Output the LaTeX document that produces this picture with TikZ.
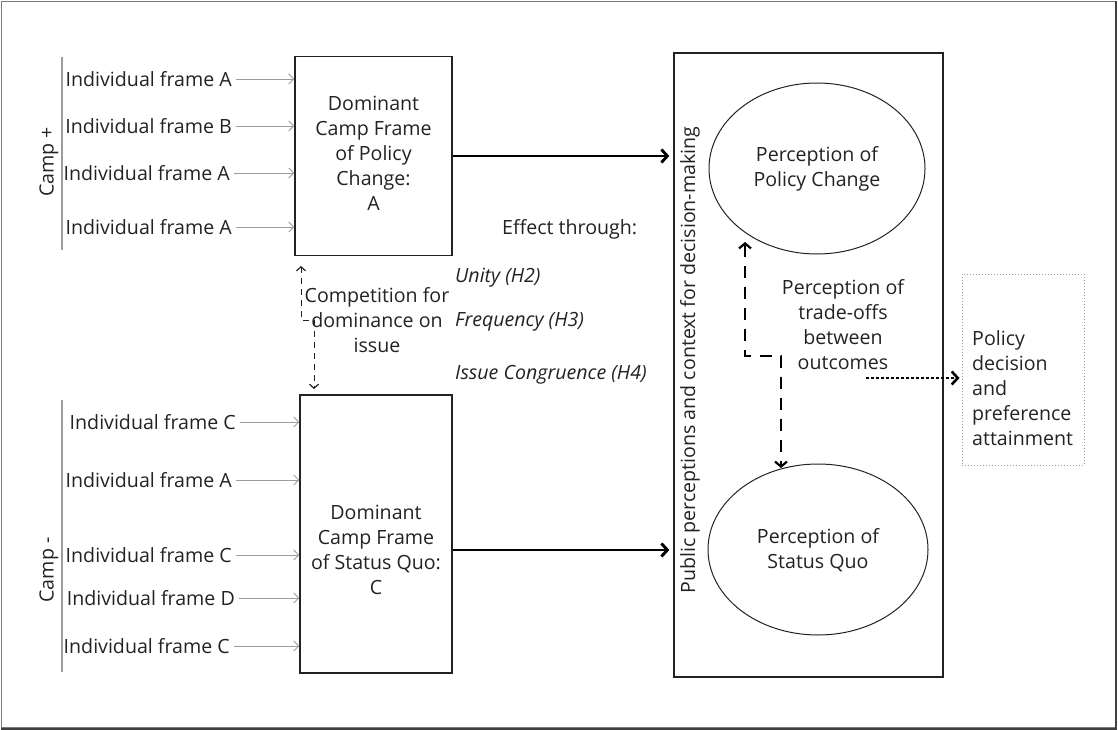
\documentclass[tikz,border=0pt]{standalone}
\usepackage{fontspec}
\setmainfont{Open Sans}
\usetikzlibrary{arrows.meta,shapes.geometric}
\definecolor{ink}{HTML}{222222}
\definecolor{thinline}{HTML}{9C9C9C}
\definecolor{framegray}{HTML}{7A7A7A}
\begin{document}
\begin{tikzpicture}[x=1pt,y=-1pt,
  every node/.style={text=ink,font=\fontsize{19.6}{25}\selectfont},
  ft/.style={anchor=east,inner sep=1pt},
  boxnode/.style={draw=ink,line width=1.3pt,rectangle,inner sep=0pt},
  ell/.style={draw=ink,line width=1pt,ellipse,inner sep=0pt},
  thinarrow/.style={draw=thinline,line width=0.9pt,-{Straight Barb[length=5pt,width=10pt]}},
  thickarrow/.style={draw=black,line width=2.9pt,-{Straight Barb[length=6pt,width=13pt,line width=2.9pt]}},
  compdash/.style={draw=ink,line width=1pt,dash pattern=on 6pt off 5pt,{Straight Barb[length=4pt,width=9pt,line width=1.2pt]}-{Straight Barb[length=4pt,width=9pt,line width=1.2pt]}},
  tradedash/.style={draw=black,line width=2.5pt,dash pattern=on 12pt off 9pt,{Straight Barb[length=5pt,width=12pt,line width=2.2pt]}-{Straight Barb[length=5pt,width=12pt,line width=2.2pt]}},
  dotarrow/.style={draw=black,line width=2.6pt,dash pattern=on 2.6pt off 2.4pt,-{Straight Barb[length=6pt,width=13pt,line width=2.6pt]}},
  camplbl/.style={rotate=90,inner sep=0pt},
  hyp/.style={anchor=west,inner sep=0pt,font=\fontsize{19.6}{25}\selectfont\itshape},
  ctr/.style={align=center,inner sep=0pt}
]
\useasboundingbox (0,0) rectangle (1118,730);
% outer frame
\draw[framegray,line width=0.8pt] (1.5,1.5) rectangle (1115.5,727.5);
\draw[black!75,line width=2pt] (1116,1) -- (1116,729) -- (1,729);

% Camp + group
\draw[thinline,line width=1.2pt] (62,57) -- (62,250);
\node[camplbl] (campp) at (49,162) {Camp +};
\node[boxnode,minimum width=157pt,minimum height=199pt] (b1) at (373.5,156) {};
\node[ctr] (b1t) at (373.5,153) {Dominant\\Camp Frame\\of Policy\\Change:\\A};
\node[ft] (p1) at (233,79) {Individual frame A};
\node[ft] (p2) at (233,126) {Individual frame B};
\node[ft] (p3) at (231,173) {Individual frame A};
\node[ft] (p4) at (233,227) {Individual frame A};
\foreach \n in {p1,p2,p3,p4}
  \draw[thinarrow] ([xshift=3pt]\n.east) -- (\n.east -| b1.west);

% Camp - group
\draw[thinline,line width=1.2pt] (62,400) -- (62,672);
\node[camplbl] (campm) at (49,570) {Camp -};
\node[boxnode,minimum width=152pt,minimum height=278pt] (b2) at (376,534) {};
\node[ctr] (b2t) at (376,550) {Dominant\\Camp Frame\\of Status Quo:\\C};
\node[ft] (m1) at (237,422) {Individual frame C};
\node[ft] (m2) at (233,480) {Individual frame A};
\node[ft] (m3) at (233,555) {Individual frame C};
\node[ft] (m4) at (236,598) {Individual frame D};
\node[ft] (m5) at (231,646) {Individual frame C};
\foreach \n in {m1,m2,m3,m4,m5}
  \draw[thinarrow] ([xshift=3pt]\n.east) -- (\n.east -| b2.west);

% competition
\node[ctr] (comp) at (377,320) {Competition for\\dominance on\\issue};
\coordinate (cu) at (301,266);
\coordinate (cm1) at (301,320);
\coordinate (cm2) at (314,320);
\coordinate (cd) at (314,389);
\draw[compdash] (cu) -- (cm1) -- (cm2) -- (cd);

% effect labels
\node[anchor=west,inner sep=0pt] (eff) at (502,229) {Effect through:};
\node[hyp] (h2) at (455,278) {Unity (H2)};
\node[hyp] (h3) at (455,322) {Frequency (H3)};
\node[hyp] (h4) at (455,375) {Issue Congruence (H4)};

% context box
\node[boxnode,minimum width=269pt,minimum height=624pt] (ctx) at (808.5,365) {};
\node[camplbl] (ctxl) at (690,360) {Public perceptions and context for decision-making};
\node[ell,minimum width=216pt,minimum height=171pt] (e1) at (817,168.5) {};
\node[ctr] (e1t) at (817,169) {Perception of\\Policy Change};
\node[ell,minimum width=220pt,minimum height=171pt] (e2) at (818,549.5) {};
\node[ctr] (e2t) at (818,550) {Perception of\\Status Quo};

% main thick arrows
\draw[thickarrow] (b1.east) -- ([xshift=-4pt]b1.east -| ctx.west);
\draw[thickarrow] (b2t -| b2.east) -- ([xshift=-4pt]b2t -| ctx.west);

% trade-offs
\node[ctr] (trade) at (843,325) {Perception of\\trade-offs\\between\\outcomes};
\coordinate (tu) at (745,242);
\coordinate (tm1) at (745,356);
\coordinate (tm2) at (781,356);
\coordinate (td) at (781,468);
\draw[tradedash] (tu) -- (tm1) -- (tm2) -- (td);

% policy decision
\node[draw=thinline,line width=1pt,dotted,rectangle,minimum width=122pt,minimum height=191pt] (pol) at (1023,369.5) {};
\node[anchor=west,align=left,inner sep=0pt] (polt) at (972,388) {Policy\\decision\\and\\preference\\attainment};
\coordinate (ds) at (866,378);
\draw[dotarrow] (ds) -- ([xshift=-2pt]ds -| pol.west);
\end{tikzpicture}
\end{document}
